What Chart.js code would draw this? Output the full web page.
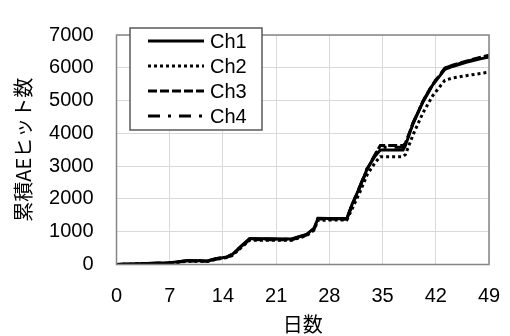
<!DOCTYPE html>
<html>
<head>
<meta charset="utf-8">
<script src="https://cdn.jsdelivr.net/npm/chart.js@4"></script>
<style>
  html, body { margin: 0; padding: 0; background: #fff; }
  #wrap { width: 510px; height: 336px; }
</style>
</head>
<body>
<div id="wrap"><canvas id="aeChart"></canvas></div>
<script>
// days on the x axis
const days = [0, 3, 7, 9.5, 12, 13, 14.5, 15.2, 17.5, 23, 25, 26, 26.5, 30.3, 31, 32, 33, 34, 34.7, 37.7, 38, 39, 40.3, 41.6, 43.2, 44.2, 46, 48, 49];

// cumulative AE hits per channel
const ch1 = [0, 20, 50, 120, 110, 170, 230, 300, 790, 780, 920, 1110, 1400, 1400, 1840, 2360, 2930, 3300, 3490, 3490, 3630, 4290, 4950, 5480, 5950, 6040, 6170, 6280, 6330];
const ch2 = [0, 20, 40, 100, 100, 150, 210, 270, 740, 740, 880, 1050, 1350, 1360, 1700, 2200, 2750, 3100, 3290, 3290, 3350, 3950, 4620, 5150, 5620, 5690, 5760, 5830, 5870];
const ch3 = [0, 20, 45, 110, 100, 160, 220, 290, 760, 750, 900, 1090, 1390, 1380, 1820, 2340, 2920, 3350, 3630, 3630, 3700, 4300, 4980, 5500, 5980, 6080, 6200, 6330, 6380];
const ch4 = [0, 25, 55, 125, 115, 175, 240, 310, 780, 770, 910, 1100, 1410, 1390, 1830, 2380, 2950, 3330, 3580, 3580, 3650, 4320, 4970, 5510, 5990, 6070, 6190, 6310, 6370];

const seriesNames = ['Ch1', 'Ch2', 'Ch3', 'Ch4'];
const xTitle = '日数';
const yTitle = '累積AEヒット数';

const tickFont = { family: '"Liberation Sans", Arial, sans-serif', size: 20 };
const cjkFont = { family: '"Noto Sans CJK JP", sans-serif', size: 20 };

function pts(vals) {
    return vals.map((v, i) => ({ x: days[i], y: v }));
}

// plot frame + legend box drawn inside the plot area
const framePlugin = {
    id: 'frame',
    beforeDraw(chart) {
        const { ctx } = chart;
        ctx.save();
        ctx.fillStyle = '#fff';
        ctx.fillRect(0, 0, chart.width, chart.height);
        ctx.restore();
    },
    afterDraw(chart) {
        const { ctx, chartArea: a } = chart;
        ctx.save();
        ctx.strokeStyle = '#868686';
        ctx.lineWidth = 1.5;
        ctx.strokeRect(a.left, a.top, a.right - a.left, a.bottom - a.top);

        // legend
        const bx = 130, by = 28, bw = 132, bh = 102;
        ctx.fillStyle = '#fff';
        ctx.fillRect(bx, by, bw, bh);
        ctx.strokeStyle = '#595959';
        ctx.lineWidth = 1.5;
        ctx.strokeRect(bx, by, bw, bh);
        ctx.font = '20px "Liberation Sans", Arial, sans-serif';
        ctx.textBaseline = 'middle';
        ctx.fillStyle = '#000';
        chart.data.datasets.forEach((ds, i) => {
            const y = 41 + i * 25;
            ctx.strokeStyle = '#000';
            ctx.lineWidth = ds.borderWidth;
            ctx.lineCap = 'butt';
            ctx.setLineDash(ds.borderDash || []);
            ctx.beginPath();
            ctx.moveTo(148, y);
            ctx.lineTo(204, y);
            ctx.stroke();
            ctx.setLineDash([]);
            ctx.fillText(ds.label, 210, y + 1);
        });
        ctx.restore();
    }
};

new Chart(document.getElementById('aeChart'), {
    type: 'line',
    data: {
        datasets: [
            { label: seriesNames[0], data: pts(ch1), borderWidth: 3, borderDash: [] },
            { label: seriesNames[1], data: pts(ch2), borderWidth: 3, borderDash: [3, 3] },
            { label: seriesNames[2], data: pts(ch3), borderWidth: 3, borderDash: [9, 3] },
            { label: seriesNames[3], data: pts(ch4), borderWidth: 3, borderDash: [12, 8, 3, 8] },
        ].map(d => Object.assign(d, {
            borderColor: '#000',
            backgroundColor: '#000',
            pointRadius: 0,
            tension: 0,
            fill: false,
        })),
    },
    options: {
        responsive: true,
        maintainAspectRatio: false,
        animation: false,
        devicePixelRatio: 1,
        layout: { padding: { top: 18, right: 21, left: 0, bottom: 0 } },
        plugins: {
            legend: { display: false },
            tooltip: { enabled: false },
        },
        scales: {
            x: {
                type: 'linear',
                min: 0,
                max: 49,
                ticks: { stepSize: 7, color: '#000', font: tickFont, padding: 20, maxRotation: 0 },
                grid: { color: '#d9d9d9', lineWidth: 1, drawTicks: false },
                border: { display: false },
                title: { display: true, text: xTitle, color: '#000', font: cjkFont, padding: { top: 0, bottom: 0 } },
                afterFit(scale) {
                    scale.height = 71.5;
                    scale.paddingLeft = 0;
                    scale.paddingRight = 0;
                },
            },
            y: {
                min: 0,
                max: 7000,
                ticks: { stepSize: 1000, color: '#000', font: tickFont, padding: 23, callback: v => String(v) },
                grid: { color: '#d9d9d9', lineWidth: 1, drawTicks: false },
                border: { display: false },
                title: { display: true, text: yTitle, color: '#000', font: cjkFont, padding: { top: 11, bottom: 0 } },
                afterFit(scale) { scale.width = 116.5; },
            },
        },
    },
    plugins: [framePlugin],
});
</script>
</body>
</html>
